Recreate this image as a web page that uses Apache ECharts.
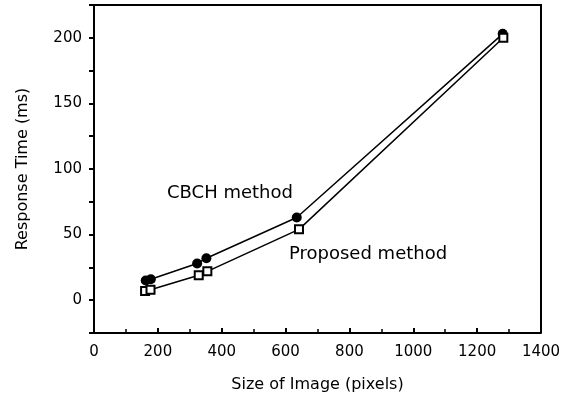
<!DOCTYPE html>
<html>
<head>
<meta charset="utf-8">
<script src="https://cdn.jsdelivr.net/npm/echarts@6/dist/echarts.min.js"></script>
<style>
  html, body { margin: 0; padding: 0; background: #fff; }
  #main { width: 564px; height: 403px; }
</style>
</head>
<body>
<div id="main"></div>
<script>
// image size (pixels) vs response time (ms)
var cbchX = [162, 178, 323, 352, 635, 1280];
var cbchY = [15, 16, 28, 32, 63, 203];
var propX = [160, 177, 328, 355, 642, 1282];
var propY = [7, 8, 19, 22, 54, 200];

var yLabels = [0, 50, 100, 150, 200];

function pairs(xs, ys) {
    var out = [];
    for (var i = 0; i < xs.length; i++) out.push([xs[i], ys[i]]);
    return out;
}

var myChart = echarts.init(document.getElementById('main'));
var font = 'DejaVu Sans';

var option = {
    animation: false,
    backgroundColor: '#fff',
    grid: { left: 94, right: 23, top: 5, bottom: 70 },
    xAxis: {
        type: 'value',
        min: 0, max: 1400, interval: 200,
        name: 'Size of Image (pixels)',
        nameLocation: 'middle',
        nameGap: 44,
        nameTextStyle: { fontFamily: font, fontSize: 16, color: '#000' },
        axisLine: { show: true, onZero: false, lineStyle: { color: '#000', width: 2 } },
        axisTick: { show: true, inside: true, length: 5, lineStyle: { color: '#000', width: 2 } },
        minorTick: { show: true, splitNumber: 2, length: 4, lineStyle: { color: '#000', width: 1.5 } },
        axisLabel: {
            fontFamily: font, fontSize: 15, color: '#000', margin: 12,
            formatter: function (v) { return String(v); }
        },
        splitLine: { show: false }
    },
    yAxis: {
        type: 'value',
        min: -25, max: 225, interval: 25,
        name: 'Response Time (ms)',
        nameLocation: 'middle',
        nameGap: 63,
        nameTextStyle: { fontFamily: font, fontSize: 16, color: '#000' },
        axisLine: { show: true, onZero: false, lineStyle: { color: '#000', width: 2 } },
        axisTick: { show: true, length: 5, lineStyle: { color: '#000', width: 2 } },
        axisLabel: {
            fontFamily: font, fontSize: 15, color: '#000', margin: 12,
            formatter: function (v) { return yLabels.indexOf(v) >= 0 ? String(v) : ''; }
        },
        splitLine: { show: false }
    },
    graphic: [
        {   // top and right frame
            type: 'polyline', silent: true,
            shape: { points: [[94, 5], [541, 5], [541, 333]] },
            style: { stroke: '#000', lineWidth: 2, fill: null }
        },
        {
            type: 'text', left: 167, top: 184,
            style: { text: 'CBCH method', font: '18px "DejaVu Sans"', fill: '#000' }
        },
        {
            type: 'text', left: 289, top: 245,
            style: { text: 'Proposed method', font: '18px "DejaVu Sans"', fill: '#000' }
        }
    ],
    series: [
        {
            name: 'CBCH method',
            type: 'line',
            data: pairs(cbchX, cbchY),
            symbol: 'circle',
            symbolSize: 10,
            itemStyle: { color: '#000' },
            lineStyle: { color: '#000', width: 1.5 }
        },
        {
            name: 'Proposed method',
            type: 'line',
            data: pairs(propX, propY),
            symbol: 'rect',
            symbolSize: 8,
            itemStyle: { color: '#fff', borderColor: '#000', borderWidth: 2 },
            lineStyle: { color: '#000', width: 1.5 }
        }
    ]
};

myChart.setOption(option);
</script>
</body>
</html>
